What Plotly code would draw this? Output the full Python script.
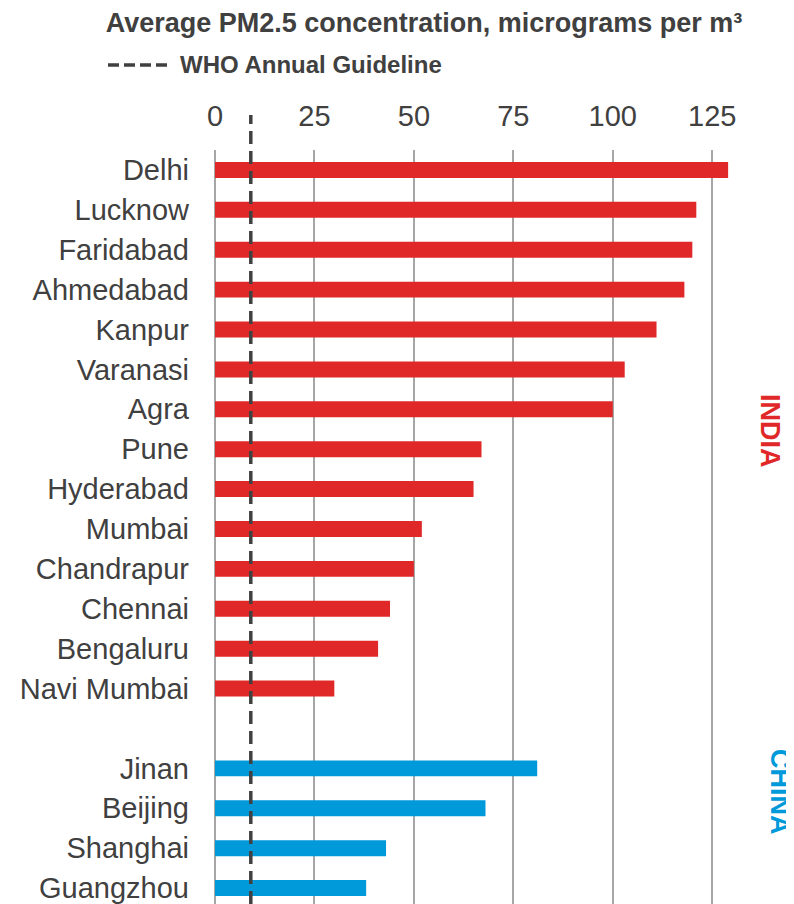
import plotly.graph_objects as go

# ── Data ─────────────────────────────────────────────────────
india_cities = ["Delhi", "Lucknow", "Faridabad", "Ahmedabad", "Kanpur", "Varanasi",
                "Agra", "Pune", "Hyderabad", "Mumbai", "Chandrapur", "Chennai",
                "Bengaluru", "Navi Mumbai"]
india_pm25 = [129, 121, 120, 118, 111, 103, 100, 67, 65, 52, 50, 44, 41, 30]

china_cities = ["Jinan", "Beijing", "Shanghai", "Guangzhou"]
china_pm25 = [81, 68, 43, 38]

who_guideline = 9
x_ticks = [0, 25, 50, 75, 100, 125]

# ── Style ────────────────────────────────────────────────────
RED = "#E02828"
BLUE = "#0099DA"
DARK = "#404040"
GRID = "#A6A6A6"
FONT = "Liberation Sans, Arial, sans-serif"

# page body has an 8px margin, so the figure is laid out in page px - 8
OFF = 8
W, H = 794 - OFF, 904 - OFF
L, R, T, B = 215 - OFF, 42, 150 - OFF, 0


def px_x(px):
    return (px - OFF - L) / (W - L - R)


def px_y(py):
    return (H - B - (py - OFF)) / (H - T - B)


categories = india_cities + [" "] + china_cities

fig = go.Figure()
fig.add_trace(go.Bar(
    y=india_cities, x=india_pm25, orientation="h",
    marker=dict(color=RED, line=dict(width=0)), name="India",
))
fig.add_trace(go.Bar(
    y=china_cities, x=china_pm25, orientation="h",
    marker=dict(color=BLUE, line=dict(width=0)), name="China",
))

# WHO guideline (dashed vertical line, runs up into the tick label row)
fig.add_shape(
    type="line", xref="x", yref="paper",
    x0=who_guideline, x1=who_guideline, y0=0, y1=px_y(115),
    line=dict(color=DARK, width=3.5, dash="13px,7px"),
)

# legend swatch + text
fig.add_shape(
    type="line", xref="paper", yref="paper",
    x0=px_x(108), x1=px_x(168), y0=px_y(65), y1=px_y(65),
    line=dict(color=DARK, width=3.5, dash="11px,5px"),
)
fig.add_annotation(
    text="<b>WHO Annual Guideline</b>", xref="paper", yref="paper",
    x=px_x(178), y=px_y(64), xanchor="left", yanchor="middle",
    showarrow=False, font=dict(family=FONT, size=24, color=DARK),
)

# country labels
fig.add_annotation(
    text="<b>INDIA</b>", xref="paper", yref="paper",
    x=px_x(770), y=px_y(431), textangle=90, showarrow=False,
    xanchor="center", yanchor="middle",
    font=dict(family=FONT, size=27, color=RED),
)
fig.add_annotation(
    text="<b>CHINA</b>", xref="paper", yref="paper",
    x=px_x(780), y=px_y(792), textangle=90, showarrow=False,
    xanchor="center", yanchor="middle",
    font=dict(family=FONT, size=27, color=BLUE),
)

fig.update_layout(
    width=W, height=H,
    margin=dict(l=L, r=R, t=T, b=B),
    paper_bgcolor="white", plot_bgcolor="white",
    barmode="overlay", bargap=0.6, showlegend=False,
    font=dict(family=FONT, color=DARK),
    title=dict(
        text="<b>Average PM2.5 concentration, micrograms per m³</b>",
        x=(424 - OFF) / W, xanchor="center", y=1 - (23 - OFF) / H, yanchor="middle",
        font=dict(family=FONT, size=27, color=DARK),
    ),
    xaxis=dict(
        side="top", range=[0, 135], tickvals=x_ticks,
        showgrid=True, gridcolor=GRID, gridwidth=1.5,
        zeroline=True, zerolinecolor=GRID, zerolinewidth=1.5,
        showline=False, ticks="", ticklabelstandoff=17,
        tickfont=dict(family=FONT, size=29, color=DARK),
    ),
    yaxis=dict(
        type="category", categoryorder="array", categoryarray=categories,
        range=[18.4, -0.5], showgrid=False, zeroline=False, showline=False,
        ticks="", ticklabelstandoff=25,
        tickfont=dict(family=FONT, size=29, color=DARK),
    ),
)

fig.write_html("out.html")
